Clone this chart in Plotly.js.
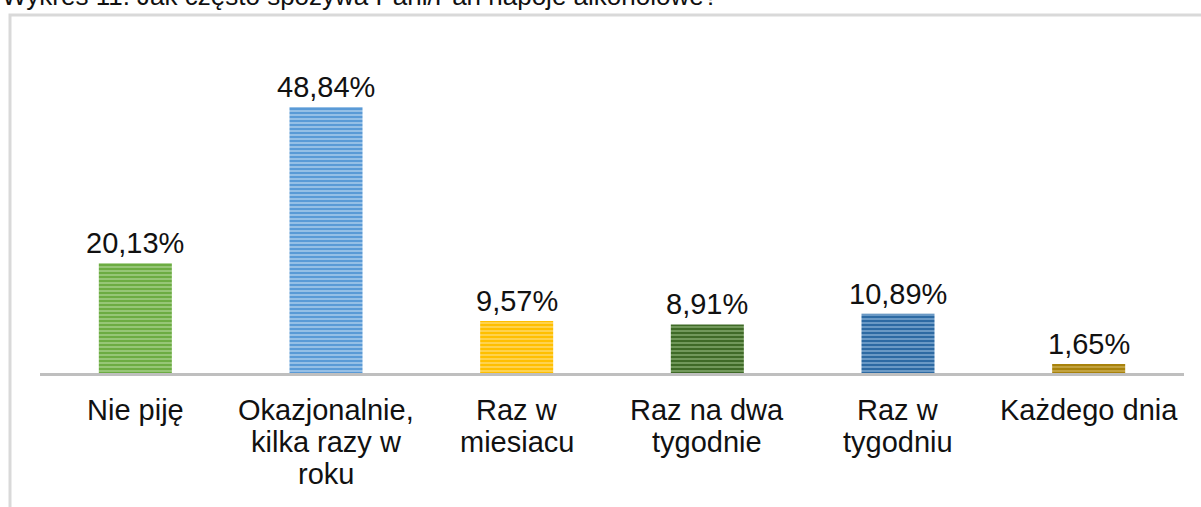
<!DOCTYPE html>
<html>
<head>
<meta charset="utf-8">
<script src="https://cdn.plot.ly/plotly-3.0.1.min.js"></script>
<style>
  html, body { margin: 0; padding: 0; background: #ffffff; }
  #chart { width: 1201px; height: 507px; }
</style>
</head>
<body>
<div id="chart"></div>
<script>
const chartTitle = "Wykres 11. Jak często spożywa Pani/Pan napoje alkoholowe?";
const categories = ["Nie piję", "Okazjonalnie,<br>kilka razy w<br>roku", "Raz w<br>miesiacu", "Raz na dwa<br>tygodnie", "Raz w<br>tygodniu", "Każdego dnia"];
const values = [20.13, 48.84, 9.57, 8.91, 10.89, 1.65];
const barColors = ["#6cac42", "#5a9ad6", "#ffbf00", "#3f6a27", "#2d6aa3", "#a8820c"];
const stripeColors = ["#c0e0aa", "#cfe3f6", "#ffe699", "#a3c58e", "#a8c8e8", "#dcc272"];

const FONT = "Liberation Sans, Arial, sans-serif";
const LABEL_SIZE = 29;

const traces = categories.map((c, i) => ({
  type: "bar",
  x: [c],
  y: [values[i]],
  width: 0.383,
  marker: {
    color: barColors[i],
    line: { width: 0 },
    pattern: {
      shape: "-",
      fgcolor: stripeColors[i],
      size: 4,
      solidity: 0.5,
      fillmode: "overlay"
    }
  },
  hoverinfo: "none"
}));

const fmt = v => v.toFixed(2).replace(".", ",") + "%";
const labelAnnotations = categories.map((c, i) => ({
  x: c, y: values[i], xref: "x", yref: "y",
  text: fmt(values[i]), showarrow: false,
  yanchor: "bottom", yshift: 2,
  font: { family: FONT, size: LABEL_SIZE, color: "#111111" }
}));

const categoryAnnotations = [];
categories.forEach((c, i) => {
  c.split("<br>").forEach((line, j) => {
    categoryAnnotations.push({
      x: c, y: 0, xref: "x", yref: "y",
      text: line, showarrow: false,
      yanchor: "middle", yshift: -(37 + 32 * j),
      font: { family: FONT, size: LABEL_SIZE, color: "#111111" }
    });
  });
});

const layout = {
  width: 1201, height: 507,
  margin: { l: 40, r: 17, t: 73, b: 134, pad: 0 },
  paper_bgcolor: "#ffffff", plot_bgcolor: "#ffffff",
  showlegend: false,
  barmode: "overlay",
  xaxis: {
    type: "category",
    categoryorder: "array", categoryarray: categories,
    showline: true, linecolor: "#bfbfbf", linewidth: 3,
    showgrid: false, zeroline: false, ticks: "",
    showticklabels: false,
    fixedrange: true
  },
  yaxis: {
    range: [0, 55.08], visible: false, showgrid: false, zeroline: false, fixedrange: true
  },
  annotations: [
    {
      xref: "paper", yref: "paper", x: -40 / 1144, y: (373 - 13) / 300,
      xanchor: "left", yanchor: "bottom", showarrow: false,
      text: chartTitle,
      font: { family: FONT, size: 26, color: "#111111" }
    }
  ].concat(labelAnnotations, categoryAnnotations),
  shapes: [
    {
      type: "rect", xref: "paper", yref: "paper",
      x0: (10 - 40) / 1144, x1: (1230 - 40) / 1144,
      y0: (373 - 540) / 300, y1: (373 - 15) / 300,
      line: { color: "#d9d9d9", width: 3 }, fillcolor: "rgba(0,0,0,0)",
      layer: "below"
    }
  ]
};

Plotly.newPlot("chart", traces, layout, { displayModeBar: false, staticPlot: true });
</script>
</body>
</html>
